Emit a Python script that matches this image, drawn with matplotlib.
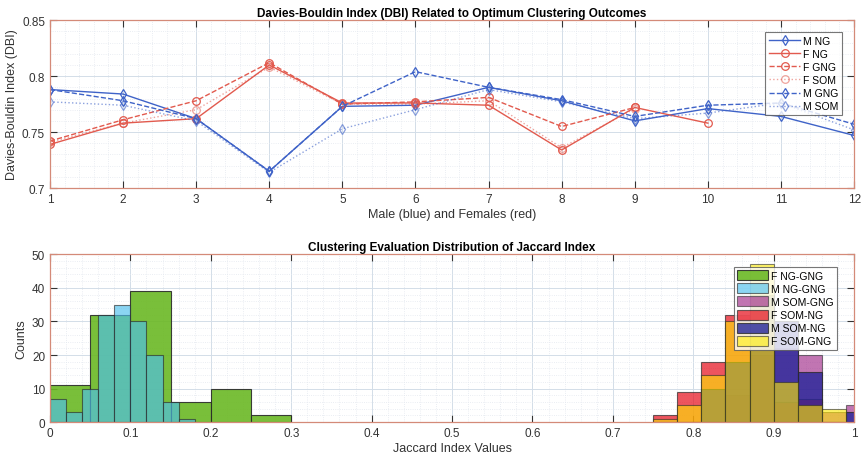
import matplotlib
matplotlib.use("Agg")
import matplotlib.pyplot as plt
import numpy as np
from matplotlib.ticker import AutoMinorLocator

plt.rcParams['font.family'] = ['Liberation Sans', 'DejaVu Sans']

# ---- Davies-Bouldin index data ----
x_all = [1, 2, 3, 4, 5, 6, 7, 8, 9, 10, 11, 12]
m_ng = [0.788, 0.784, 0.762, 0.715, 0.773, 0.774, 0.790, 0.778, 0.760, 0.771, 0.764, 0.747]
m_gng = [0.788, 0.778, 0.762, 0.715, 0.773, 0.804, 0.790, 0.779, 0.764, 0.774, 0.776, 0.757]
m_som = [0.777, 0.774, 0.760, 0.714, 0.753, 0.770, 0.788, 0.777, 0.762, 0.767, 0.776, 0.752]
f_ng = [0.739, 0.758, 0.762, 0.810, 0.776, 0.776, 0.774, 0.734, 0.772, 0.758]
f_gng = [0.742, 0.761, 0.778, 0.812, 0.775, 0.777, 0.781, 0.755, 0.772]
f_som = [0.741, 0.758, 0.770, 0.808, 0.775, 0.775, 0.778, 0.736, 0.771]

# ---- Jaccard index histograms (bin edges + counts) ----
edges_f_ng_gng = [0.0, 0.05, 0.10, 0.15, 0.20, 0.25, 0.30]
counts_f_ng_gng = [11, 32, 39, 6, 10, 2]
edges_m_ng_gng = [0.0, 0.02, 0.04, 0.06, 0.08, 0.10, 0.12, 0.14, 0.16, 0.18]
counts_m_ng_gng = [7, 3, 10, 32, 35, 30, 20, 6, 1]
edges_right = [0.75, 0.78, 0.81, 0.84, 0.87, 0.90, 0.93, 0.96, 0.99, 1.02]
counts_m_som_gng = [0, 0, 0, 8, 20, 22, 20, 3, 5]
counts_f_som_ng = [2, 9, 18, 32, 28, 6, 7, 0, 0]
counts_m_som_ng = [0, 0, 10, 18, 38, 30, 15, 0, 3]
counts_f_som_gng = [1, 5, 14, 30, 47, 12, 5, 4, 0]

blue = '#3f63c8'
red = '#e25a4e'
spine_col = '#d48a78'
grid_major = '#d3dde8'
grid_minor = '#e3e8ef'


def style_axes(ax):
    for s in ax.spines.values():
        s.set_color(spine_col)
        s.set_linewidth(0.9)
    ax.tick_params(which='both', direction='in', top=True, right=True,
                   colors='#333333', labelsize=8.5, length=5)
    ax.tick_params(which='minor', length=0)
    ax.grid(which='major', color=grid_major, linewidth=0.7)
    ax.grid(which='minor', color=grid_minor, linewidth=0.6, linestyle=':')
    ax.set_axisbelow(True)


fig = plt.figure(figsize=(8.61, 4.60), dpi=100)
ax1 = fig.add_axes([0.058, 0.589, 0.934, 0.365])
ax2 = fig.add_axes([0.058, 0.080, 0.934, 0.365])

# top plot
mk = dict(markerfacecolor='none', markersize=5.5, linewidth=1.0, markeredgewidth=0.9)
ax1.plot(x_all, m_ng, '-', marker='d', color=blue, label='M NG', **mk)
ax1.plot(x_all[:len(f_ng)], f_ng, '-', marker='o', color=red, label='F NG', **mk)
ax1.plot(x_all[:len(f_gng)], f_gng, '--', marker='o', color=red, label='F GNG', **mk)
ax1.plot(x_all[:len(f_som)], f_som, ':', marker='o', color=red, alpha=0.55, label='F SOM', **mk)
ax1.plot(x_all, m_gng, '--', marker='d', color=blue, label='M GNG', **mk)
ax1.plot(x_all, m_som, ':', marker='d', color=blue, alpha=0.6, label='M SOM', **mk)
ax1.set_xlim(1, 12)
ax1.set_ylim(0.7, 0.85)
ax1.set_xticks(x_all)
ax1.set_yticks([0.7, 0.75, 0.8, 0.85])
ax1.set_yticklabels(['0.7', '0.75', '0.8', '0.85'])
ax1.xaxis.set_minor_locator(AutoMinorLocator(5))
ax1.yaxis.set_minor_locator(AutoMinorLocator(5))
style_axes(ax1)
ax1.set_title('Davies-Bouldin Index (DBI) Related to Optimum Clustering Outcomes',
              fontsize=8.5, fontweight='bold', pad=3)
ax1.set_xlabel('Male (blue) and Females (red)', fontsize=9, color='#333333', labelpad=2)
ax1.set_ylabel('Davies-Bouldin Index (DBI)', fontsize=9, color='#333333', labelpad=3)
leg1 = ax1.legend(loc='upper right', fontsize=7.5, frameon=True, fancybox=False,
                  edgecolor='#555555', borderpad=0.35, labelspacing=0.3,
                  handlelength=3.0, handletextpad=0.3, bbox_to_anchor=(0.992, 0.96))
leg1.get_frame().set_linewidth(0.8)

# bottom plot


def draw_hist(ax, edges, counts, color, alpha, label):
    edges = np.asarray(edges)
    ax.bar(edges[:-1], counts, width=np.diff(edges), align='edge',
           color=color, alpha=alpha, edgecolor='#2a2a2a', linewidth=0.8, label=label)


draw_hist(ax2, edges_f_ng_gng, counts_f_ng_gng, (0.42, 0.72, 0.14), 0.9, 'F NG-GNG')
draw_hist(ax2, edges_m_ng_gng, counts_m_ng_gng, (0.30, 0.75, 0.93), 0.65, 'M NG-GNG')
draw_hist(ax2, edges_right, counts_m_som_gng, (0.60, 0.10, 0.50), 0.6, 'M SOM-GNG')
draw_hist(ax2, edges_right, counts_f_som_ng, (0.90, 0.05, 0.10), 0.7, 'F SOM-NG')
draw_hist(ax2, edges_right, counts_m_som_ng, (0.15, 0.15, 0.60), 0.8, 'M SOM-NG')
draw_hist(ax2, edges_right, counts_f_som_gng, (1.0, 0.93, 0.0), 0.6, 'F SOM-GNG')
ax2.set_xlim(0, 1)
ax2.set_ylim(0, 50)
ax2.set_xticks(np.arange(0, 1.01, 0.1))
ax2.set_xticklabels(['0', '0.1', '0.2', '0.3', '0.4', '0.5', '0.6', '0.7', '0.8', '0.9', '1'])
ax2.set_yticks([0, 10, 20, 30, 40, 50])
ax2.xaxis.set_minor_locator(AutoMinorLocator(5))
ax2.yaxis.set_minor_locator(AutoMinorLocator(5))
style_axes(ax2)
ax2.set_title('Clustering Evaluation Distribution of Jaccard Index',
              fontsize=8.5, fontweight='bold', pad=3)
ax2.set_xlabel('Jaccard Index Values', fontsize=9, color='#333333', labelpad=2)
ax2.set_ylabel('Counts', fontsize=9, color='#333333', labelpad=3)
leg2 = ax2.legend(loc='upper right', fontsize=7.5, frameon=True, fancybox=False,
                  edgecolor='#555555', borderpad=0.3, labelspacing=0.25,
                  handlelength=3.0, handleheight=1.1, handletextpad=0.3,
                  bbox_to_anchor=(0.985, 0.955))
leg2.get_frame().set_linewidth(0.8)
leg2.set_zorder(10)

fig.savefig('out.png', dpi=100)
